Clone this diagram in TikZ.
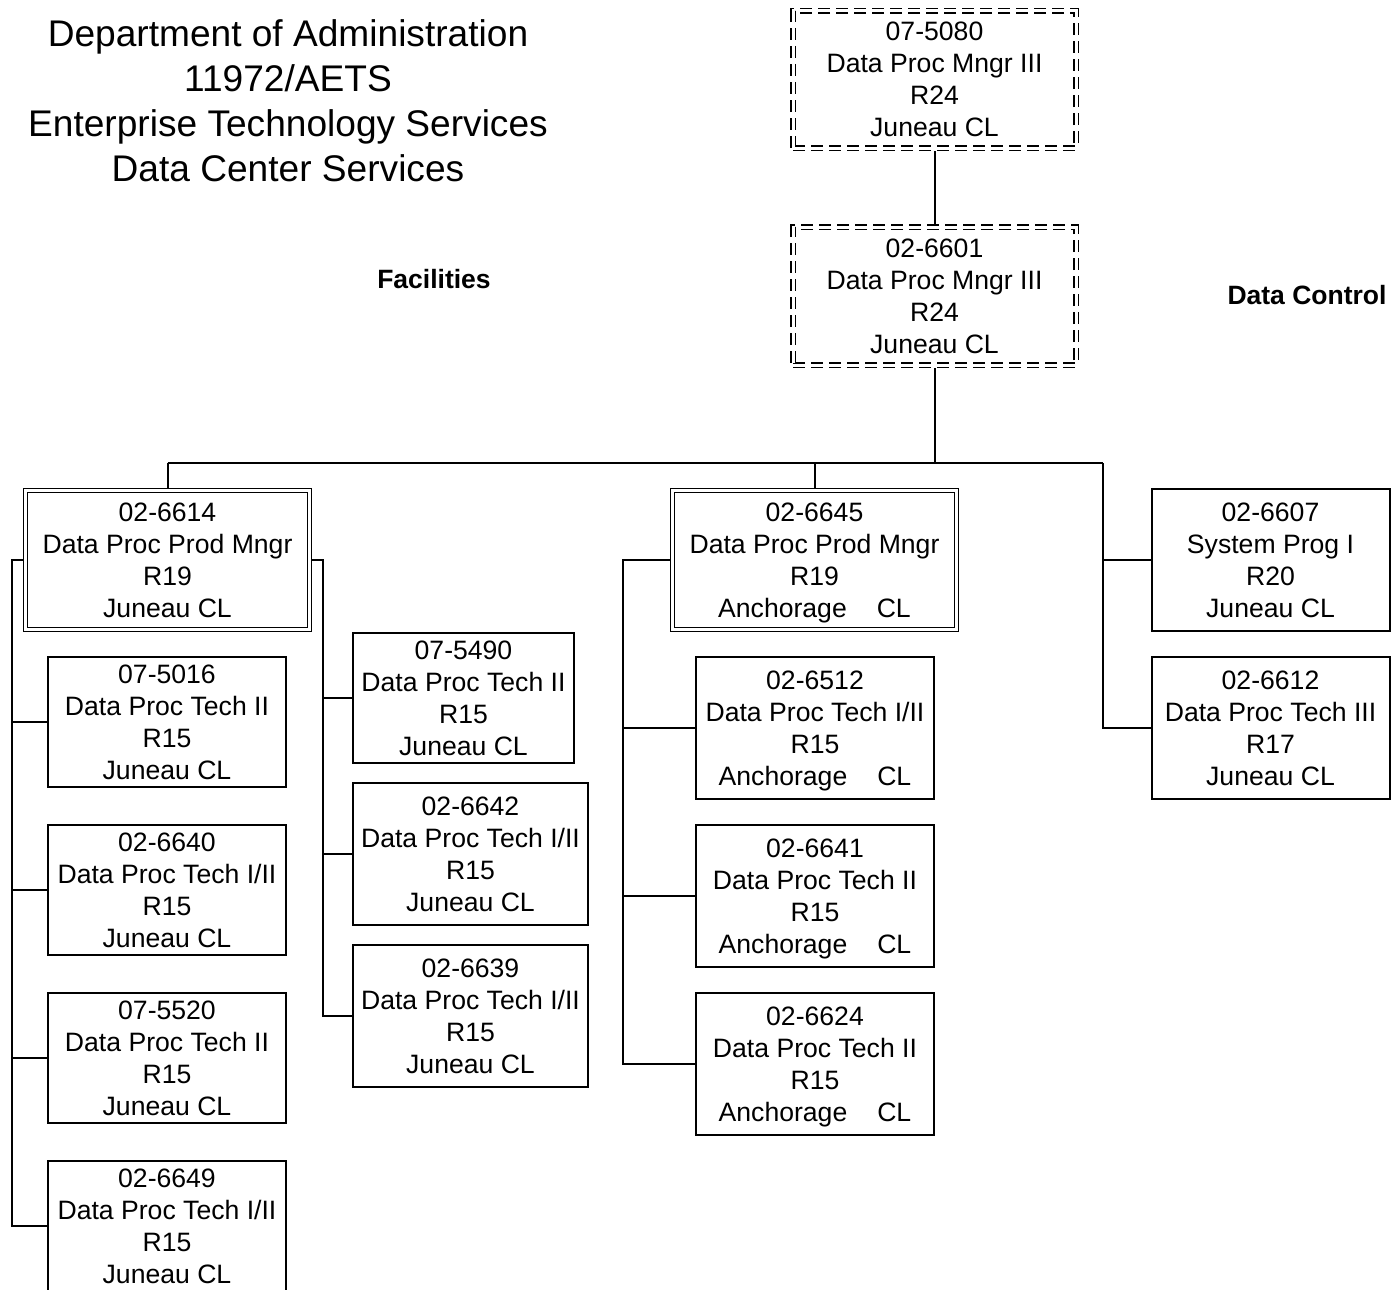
\documentclass[tikz,border=0pt]{standalone}
\usepackage{fontspec}
\setmainfont{Liberation Sans}
\begin{document}
\begin{tikzpicture}[x=1pt,y=-1pt,line width=2pt,
  box/.style 2 args={draw, line width=2pt, minimum width=#1pt, minimum height=#2pt,
    inner sep=0pt, outer sep=0pt, align=center, font=\fontsize{26.6}{32}\selectfont},
  dbox/.style 2 args={box={#1}{#2}, double, double distance=2.4pt, line width=1.5pt, outer sep=2.7pt},
  ddbox/.style 2 args={dbox={#1}{#2}, double distance=3pt, outer sep=3pt, dash pattern=on 12pt off 6pt},
  head/.style={font=\bfseries\fontsize{26.5}{32}\selectfont, inner sep=0pt},
  titletext/.style={font=\fontsize{37.1}{45}\selectfont, align=center, inner sep=0pt}]
\useasboundingbox (0,0) rectangle (1392,1290);

\node[titletext] (title) at (288,100.5) {Department of Administration\\11972/AETS\\Enterprise Technology Services\\Data Center Services};
\node[head] (facl) at (434,279) {Facilities};
\node[head] (dcl) at (1307,295) {Data Control};

\node[ddbox={283}{137}] (top) at (934.5,79.5) {07-5080\\Data Proc Mngr III\\R24\\Juneau CL};
\node[ddbox={283}{138}] (mgr) at (934.5,296) {02-6601\\Data Proc Mngr III\\R24\\Juneau CL};

\node[dbox={284}{139}] (fac) at (167.5,560) {02-6614\\Data Proc Prod Mngr\\R19\\Juneau CL};
\node[dbox={284}{139}] (ctrl) at (814.5,560) {02-6645\\Data Proc Prod Mngr\\R19\\\smash{Anchorage}\hspace{30pt}CL};

\node[box={238}{142}] (p6607) at (1270.5,560) {02-6607\\System Prog I\\R20\\Juneau CL};
\node[box={238}{142}] (p6612) at (1270.5,728) {02-6612\\Data Proc Tech III\\R17\\Juneau CL};

\node[box={238}{130}] (b5016) at (167,722) {07-5016\\Data Proc Tech II\\R15\\Juneau CL};
\node[box={238}{130}] (b6640) at (167,890) {02-6640\\Data Proc Tech I/II\\R15\\Juneau CL};
\node[box={238}{130}] (b5520) at (167,1058) {07-5520\\Data Proc Tech II\\R15\\Juneau CL};
\node[box={238}{130}] (b6649) at (167,1226) {02-6649\\Data Proc Tech I/II\\R15\\Juneau CL};

\node[box={221}{130}] (b5490) at (463.5,698) {07-5490\\Data Proc Tech II\\R15\\Juneau CL};
\node[box={235}{142}] (b6642) at (470.5,854) {02-6642\\Data Proc Tech I/II\\R15\\Juneau CL};
\node[box={235}{142}] (b6639) at (470.5,1016) {02-6639\\Data Proc Tech I/II\\R15\\Juneau CL};

\node[box={238}{142}] (b6512) at (815,728) {02-6512\\Data Proc Tech I/II\\R15\\\smash{Anchorage}\hspace{30pt}CL};
\node[box={238}{142}] (b6641) at (815,896) {02-6641\\Data Proc Tech II\\R15\\\smash{Anchorage}\hspace{30pt}CL};
\node[box={238}{142}] (b6624) at (815,1064) {02-6624\\Data Proc Tech II\\R15\\\smash{Anchorage}\hspace{30pt}CL};

% connectors
\draw (top.south) -- (mgr.north);
\coordinate (busL) at (167.5,463);
\coordinate (busR) at (1103,463);
\draw (mgr.south) -- (mgr.south |- busL);
\draw (busL) -- (busR);
\draw (busL) -- (fac.north);
\draw (ctrl.north |- busL) -- (ctrl.north);
\draw (busR) |- (p6607.west);
\draw (busR) |- (p6612.west);

\coordinate (lv) at (12,560);
\draw (fac.west) -- (lv) |- (b6649.west);
\foreach \n in {b5016,b6640,b5520} \draw (lv |- \n.west) -- (\n.west);

\coordinate (mv) at (323,560);
\draw (fac.east) -- (mv) |- (b6639.west);
\foreach \n in {b5490,b6642} \draw (mv |- \n.west) -- (\n.west);

\coordinate (cv) at (623,560);
\draw (ctrl.west) -- (cv) |- (b6624.west);
\foreach \n in {b6512,b6641} \draw (cv |- \n.west) -- (\n.west);
\end{tikzpicture}
\end{document}
